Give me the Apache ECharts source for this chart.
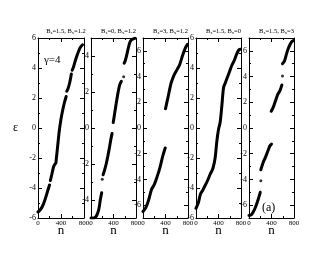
<!DOCTYPE html>
<html><head><meta charset="utf-8">
<script src="https://cdn.jsdelivr.net/npm/echarts@6/dist/echarts.min.js"></script>
<style>html,body{margin:0;padding:0;background:#fff}#c{width:332px;height:257px}</style>
</head><body><div id="c"></div>
<script>
// ---- data (null = gap between level groups) ----
const nTicks = [0, 400, 800];
const panelBz = ['1.5', '0', '3', '1.5', '1.5'];
const panelBx = ['1.2', '1.2', '1.2', '0', '3'];
const yMin = [-6, -5, -7, -6, -7];
const yMax = [6, 5, 7, 6, 7];

const p1N = [0,40,80,120,160,200,null,215,240,270,295,310,320,345,370,400,430,460,490,null,500,520,550,580,null,595,620,650,680,710,740,775];
const p1E = [-5.6,-5.45,-5.2,-4.8,-4.3,-3.8,null,-3.5,-3.1,-2.6,-2.4,-2.35,-2.0,-1.1,-0.2,0.6,1.2,1.7,2.1,null,2.45,2.6,3.0,3.6,null,3.85,4.1,4.5,4.85,5.15,5.4,5.55];
const p1DotN = [], p1DotE = [];

const p2N = [0,40,80,110,140,165,190,null,215,240,270,300,330,355,375,null,395,420,450,480,510,540,null,590,610,635,660,690,720,750,780];
const p2E = [-5.0,-5.0,-4.95,-4.8,-4.5,-4.0,-3.6,null,-2.6,-2.35,-2.0,-1.55,-1.05,-0.6,-0.3,null,0.3,0.8,1.4,1.95,2.4,2.6,null,3.6,3.75,4.05,4.4,4.75,4.9,4.95,4.98];
const p2DotN = [200, 580], p2DotE = [-2.85, 2.85];

const p3N = [0,50,100,150,200,250,300,350,395,null,400,450,500,550,600,650,700,750,790];
const p3E = [-6.5,-6.2,-5.6,-4.8,-4.4,-3.8,-3.1,-2.2,-1.55,null,1.5,2.5,3.5,4.1,4.5,4.9,5.6,6.2,6.5];
const p3DotN = [], p3DotE = [];

const p4N = [0,40,80,120,160,200,250,300,340,370,400,430,460,490,520,560,600,640,680,720,760,790];
const p4E = [-5.35,-5.0,-4.4,-4.15,-3.85,-3.55,-3.1,-2.7,-2.0,-0.9,-0.1,0.4,1.5,2.7,3.0,3.4,3.8,4.2,4.5,4.9,5.2,5.25];
const p4DotN = [], p4DotE = [];

const p5N = [0,40,80,120,160,200,null,210,250,290,330,370,400,null,395,430,470,510,550,585,null,595,630,670,700,730,760,790];
const p5E = [-6.8,-6.75,-6.5,-6.1,-5.6,-5.0,null,-3.25,-2.7,-2.3,-1.85,-1.4,-1.25,null,1.3,1.6,2.1,2.6,2.9,3.35,null,5.0,5.2,5.8,6.2,6.5,6.7,6.8];
const p5DotN = [210, 595], p5DotE = [-4.1, 4.05];

const curvesN = [p1N, p2N, p3N, p4N, p5N];
const curvesE = [p1E, p2E, p3E, p4E, p5E];
const dotsN = [p1DotN, p2DotN, p3DotN, p4DotN, p5DotN];
const dotsE = [p1DotE, p2DotE, p3DotE, p4DotE, p5DotE];

// ---- layout ----
const FF = 'Liberation Serif';
const L = [38, 91, 143, 196, 249];
const W = [46, 45, 45, 45, 45];
const TOP = 38, H = 180;

const grid = [], xAxis = [], yAxis = [], series = [], title = [];
for (let i = 0; i < 5; i++) {
  grid.push({left: L[i], top: TOP, width: W[i], height: H});
  const axLine = {show: true, onZero: false, lineStyle: {color: '#000', width: 1}};
  const baseX = {gridIndex: i, type: 'value', min: nTicks[0], max: nTicks[nTicks.length-1], interval: nTicks[1]-nTicks[0],
    axisLine: axLine, splitLine: {show: false},
    axisTick: {inside: true, length: 4, lineStyle: {color: '#000'}},
    minorTick: {show: true, splitNumber: 2, length: 2, lineStyle: {color: '#000'}}};
  xAxis.push(Object.assign({}, baseX, {position: 'bottom',
    axisLabel: {show: true, fontSize: 7, fontFamily: FF, color: '#000', margin: 2, showMinLabel: true, showMaxLabel: true, hideOverlap: false},
    name: 'n', nameLocation: 'middle', nameGap: 6, nameMoveOverlap: false, nameTextStyle: {fontSize: 13, fontFamily: FF, color: '#000', verticalAlign: 'top'}}));
  xAxis.push(Object.assign({}, baseX, {position: 'top', axisLabel: {show: false}}));
  const majors = [];
  for (let v = Math.ceil(yMin[i]/2)*2; v <= yMax[i]; v += 2) majors.push(v);
  const minorY = {gridIndex: i, type: 'value', min: yMin[i], max: yMax[i], interval: 1,
    axisLine: axLine, splitLine: {show: false}, axisLabel: {show: false},
    axisTick: {inside: true, length: 2, lineStyle: {color: '#000'}}};
  const majorY = {gridIndex: i, type: 'value', min: yMin[i], max: yMax[i],
    axisLine: {show: false, onZero: false}, splitLine: {show: false},
    axisTick: {inside: true, length: 4, customValues: majors, lineStyle: {color: '#000'}}};
  yAxis.push(Object.assign({}, minorY, {position: 'left'}));
  const leftMajor = Object.assign({}, majorY, {position: 'left',
    axisLabel: {show: true, customValues: majors, fontSize: 8, fontFamily: FF, color: '#000', margin: 2,
      formatter: v => (v < 0 ? '-' + Math.abs(v) : '' + v)}});
  if (i === 0) Object.assign(leftMajor, {name: 'ε', nameLocation: 'middle', nameGap: 20, nameRotate: 0,
    nameTextStyle: {fontSize: 12, fontFamily: FF, color: '#000'}});
  yAxis.push(leftMajor);
  yAxis.push(Object.assign({}, minorY, {position: 'right'}));
  yAxis.push(Object.assign({}, majorY, {position: 'right', axisLabel: {show: false}}));

  // curve segments
  let seg = [];
  const N = curvesN[i], E = curvesE[i];
  const flush = () => { if (seg.length) {
    series.push({type: 'line', xAxisIndex: 2*i, yAxisIndex: 4*i, data: seg, symbol: 'none', smooth: 0.3,
      lineStyle: {color: '#000', width: 3, cap: 'round'}, silent: true, animation: false});
    seg = []; } };
  for (let k = 0; k < N.length; k++) {
    if (N[k] === null) flush(); else seg.push([N[k], E[k]]);
  }
  flush();
  if (dotsN[i].length) {
    series.push({type: 'scatter', xAxisIndex: 2*i, yAxisIndex: 4*i, symbolSize: 3,
      data: dotsN[i].map((n, k) => [n, dotsE[i][k]]), itemStyle: {color: '#000'}, animation: false});
  }
  title.push({text: 'B{s|z}=' + panelBz[i] + ', B{s|x}=' + panelBx[i], left: L[i] + W[i]/2, top: 22, textAlign: 'center',
    textStyle: {fontSize: 6.5, fontWeight: 'normal', fontFamily: FF, color: '#000',
      rich: {s: {fontSize: 4.5, fontFamily: FF, color: '#000', padding: [3, 0, 0, 0]}}}});
}

const chart = echarts.init(document.getElementById('c'), null, {renderer: 'canvas'});
chart.setOption({
  animation: false,
  backgroundColor: '#fff',
  title: title,
  grid: grid, xAxis: xAxis, yAxis: yAxis, series: series,
  graphic: [
    {type: 'text', left: 44, top: 55, style: {text: 'γ=4', fontSize: 11, fontFamily: FF, fill: '#000'}},
    {type: 'text', left: 262, top: 202, style: {text: '(a)', fontSize: 12, fontFamily: FF, fill: '#000'}}
  ]
});
</script></body></html>
